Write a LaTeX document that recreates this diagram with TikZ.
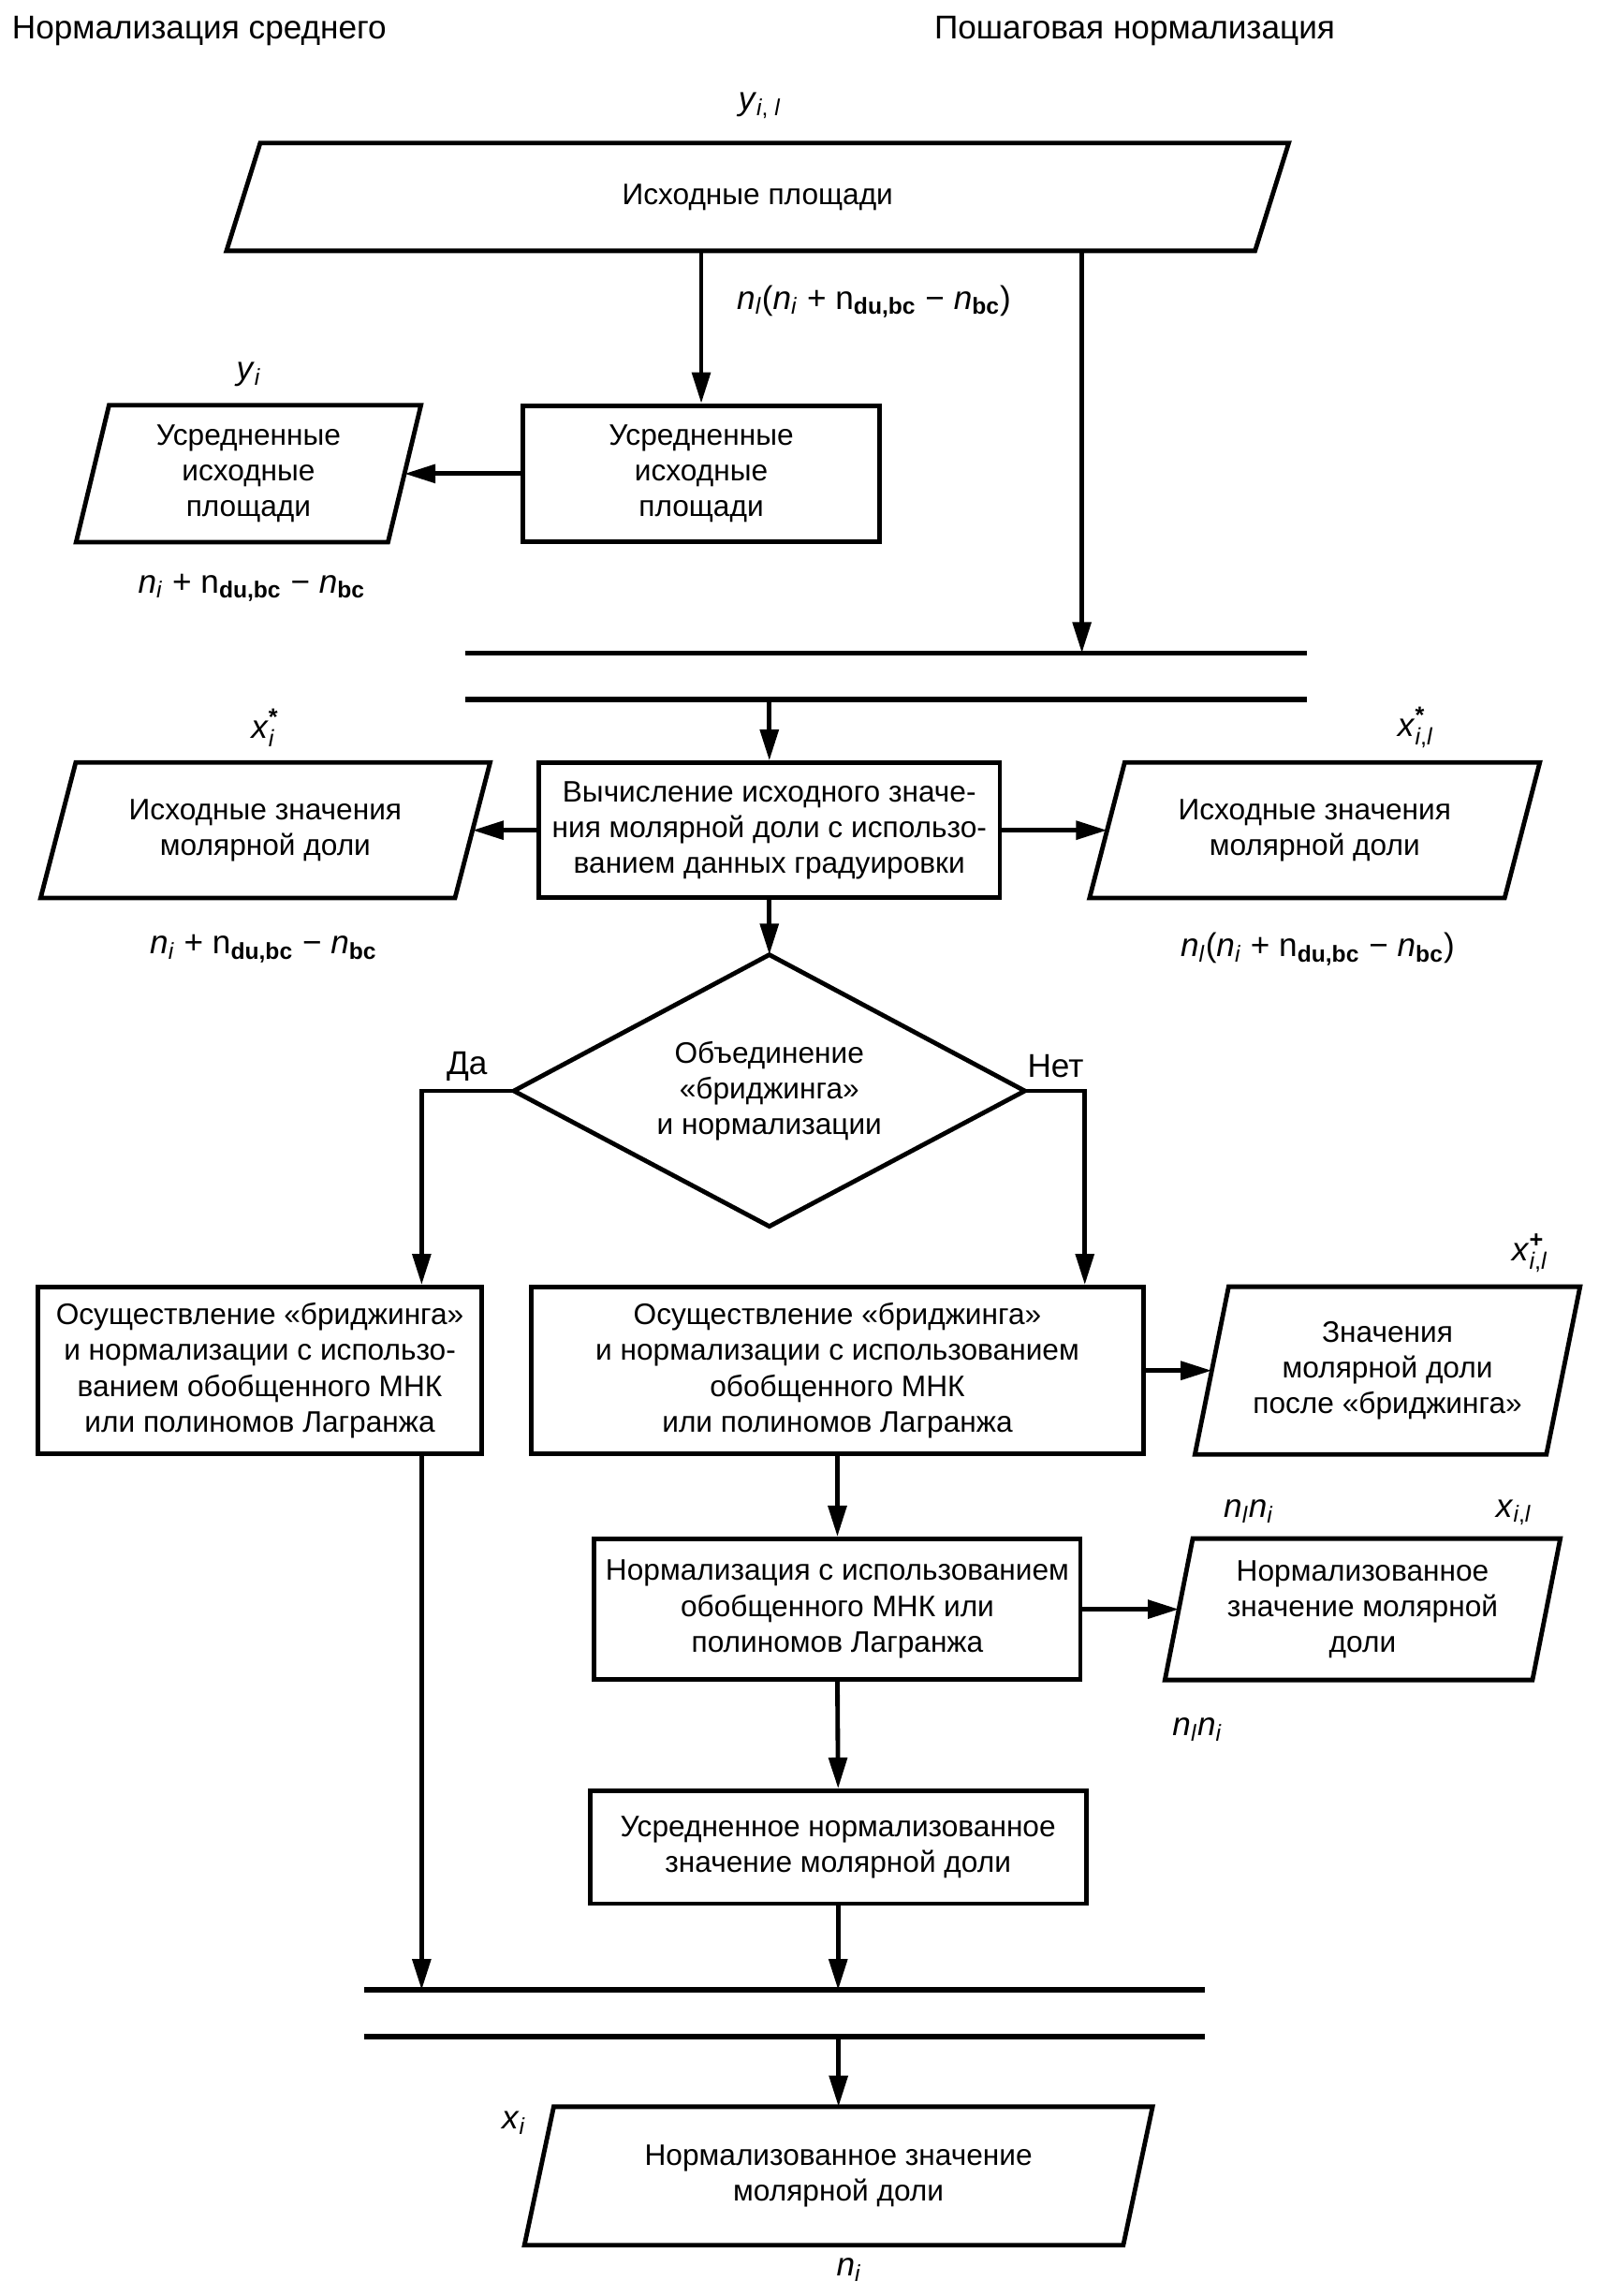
\documentclass[tikz,border=0pt]{standalone}
\usepackage{fontspec}
\setmainfont{Liberation Sans}
\usetikzlibrary{arrows.meta,calc}
\newcommand\supsub[2]{$^{\mbox{\fontsize{11.5}{12}\selectfont #1}}_{\mbox{\fontsize{11.5}{12}\selectfont #2}}$}
\newcommand\nexpr{\textit{n}\textsubscript{\textit{i}} + n\textsubscript{\textbf{du,bc}} − \textit{n}\textsubscript{\textbf{bc}}}
\newcommand\para[2]{\draw[lw] ([xshift=#2*0.25mm]#1.north west) -- ([xshift=#2*0.25mm]#1.north east) -- ([xshift=-#2*0.25mm]#1.south east) -- ([xshift=-#2*0.25mm]#1.south west) -- cycle;}
\begin{document}
\begin{tikzpicture}[x=0.25mm,y=-0.25mm,
 lw/.style={line width=2.2pt},
 barline/.style={line width=2.6pt},
 txt/.style={font=\fontsize{14.4}{17.4}\selectfont, align=center, inner sep=0pt},
 lbl/.style={font=\fontsize{16}{19}\selectfont, inner sep=0pt},
 rbox/.style 2 args={txt, draw, lw, minimum width=#1*0.25mm, minimum height=#2*0.25mm},
 pbox/.style 2 args={txt, minimum width=#1*0.25mm, minimum height=#2*0.25mm},
 arr/.style={lw, -{Triangle[length=5.3mm,width=3.1mm]}},
]
\useasboundingbox (0,0) rectangle (1092,1568);

% titles
\node[lbl, anchor=west] (t1) at (8,21) {Нормализация среднего};
\node[lbl, anchor=west] (t2) at (638,21) {Пошаговая нормализация};

% top
\node[lbl] (lyil) at (519,72) {\textit{y}\textsubscript{\textit{i}, \textit{l}}};
\node[pbox={702}{73}] (P0) at (517.5,134.5) {Исходные площади};
\para{P0}{11.5}
\node[lbl] (lA) at (597,206) {\textit{n}\textsubscript{\textit{l}}(\nexpr)};

\node[rbox={244}{93}] (B1) at (479,323.5) {Усредненные\\исходные\\площади};
\node[pbox={212.5}{93}] (P1) at (169.75,323.5) {Усредненные\\исходные\\площади};
\para{P1}{11.25}
\node[lbl] (lyi) at (170,256) {\textit{y}\textsubscript{\textit{i}}};
\node[lbl] (lB) at (172,401.5) {\nexpr};

% bars 1
\coordinate (b1w) at (318,446); \coordinate (b1e) at (893,446);
\coordinate (b2w) at (318,477.5); \coordinate (b2e) at (893,477.5);
\draw[barline] (b1w) -- (b1e);
\draw[barline] (b2w) -- (b2e);
\coordinate (j1) at (739,446);

% calc row
\node[rbox={315}{92}] (B2) at (525.5,567) {Вычисление исходного значе-\\ния молярной доли с использо-\\ванием данных градуировки};
\node[pbox={282.5}{92}] (P2) at (181.25,567) {Исходные значения\\молярной доли};
\para{P2}{12}
\node[pbox={283}{92}] (P3) at (898,567) {Исходные значения\\молярной доли};
\para{P3}{12}
\node[lbl] (lxs) at (181,497) {\textit{x}\supsub{\textbf{*}}{\textit{i}}};
\node[lbl] (lxsl) at (967,497) {\textit{x}\supsub{\textbf{*}}{\textit{i},\textit{l}}};
\node[lbl] (lC) at (180,648) {\nexpr};
\node[lbl] (lD) at (900,648) {\textit{n}\textsubscript{\textit{l}}(\nexpr)};

% decision
\node[txt] (D) at (525.5,745) {Объединение\\«бриджинга»\\и нормализации};
\coordinate (Dn) at (525.5,652); \coordinate (Ds) at (525.5,837.5);
\coordinate (Dw) at (351,745); \coordinate (De) at (700,745);
\draw[lw] (Dn) -- (De) -- (Ds) -- (Dw) -- cycle;
\node[lbl] (yes) at (319,728) {Да};
\node[lbl] (no) at (721,728) {Нет};
\coordinate (jl) at (288,745); \coordinate (jr) at (741,745);

% bridging row
\node[rbox={303}{114}] (LB) at (177.5,936) {Осуществление «бриджинга»\\и нормализации с использо-\\ванием обобщенного МНК\\или полиномов Лагранжа};
\node[rbox={418}{114}] (RB) at (572,936) {Осуществление «бриджинга»\\и нормализации с использованием\\обобщенного МНК\\или полиномов Лагранжа};
\node[pbox={239.5}{114}] (P4) at (947.75,936) {Значения\\молярной доли\\после «бриджинга»};
\para{P4}{11.5}
\node[lbl] (lxp) at (1045,856) {\textit{x}\supsub{\textbf{+}}{\textit{i},\textit{l}}};

% normalisation
\node[rbox={332}{96}] (NB) at (572,1099) {Нормализация с использованием\\обобщенного МНК или\\полиномов Лагранжа};
\node[pbox={250.5}{96}] (P5) at (930.75,1099) {Нормализованное\\значение молярной\\доли};
\para{P5}{9.5}
\node[lbl] (lnn1) at (853,1032) {\textit{n}\textsubscript{\textit{l}}\textit{n}\textsubscript{\textit{i}}};
\node[lbl] (lxil) at (1034,1033) {\textit{x}\textsubscript{\textit{i},\textit{l}}};
\node[lbl] (lnn2) at (818,1181) {\textit{n}\textsubscript{\textit{l}}\textit{n}\textsubscript{\textit{i}}};

\node[rbox={339}{77}] (AB) at (572.5,1261.5) {Усредненное нормализованное\\значение молярной доли};

% bars 2
\coordinate (b3w) at (249,1359); \coordinate (b3e) at (823,1359);
\coordinate (b4w) at (249,1391); \coordinate (b4e) at (823,1391);
\draw[barline] (b3w) -- (b3e);
\draw[barline] (b4w) -- (b4e);

% final
\node[pbox={408.5}{94}] (P6) at (572.75,1486) {Нормализованное значение\\молярной доли};
\para{P6}{10}
\node[lbl] (lxi) at (351,1450) {\textit{x}\textsubscript{\textit{i}}};
\node[lbl] (lni) at (580,1550) {\textit{n}\textsubscript{\textit{i}}};

% connectors
\draw[arr] (P0.south -| B1.north) -- (B1.north);
\draw[arr] (P0.south -| j1) -- (j1);
\draw[arr] (B1.west) -- (P1.east);
\draw[arr] (b2w -| B2.north) -- (B2.north);
\draw[arr] (B2.west) -- (P2.east);
\draw[arr] (B2.east) -- (P3.west);
\draw[arr] (B2.south) -- (Dn);
\draw[arr] (Dw) -- (jl) -- (jl |- LB.north);
\draw[arr] (De) -- (jr) -- (jr |- RB.north);
\draw[arr] (RB.east) -- (P4.west);
\draw[arr] (RB.south) -- (NB.north);
\draw[arr] (NB.east) -- (P5.west);
\draw[arr] (NB.south) -- (AB.north);
\draw[arr] (AB.south) -- (AB.south |- b3w);
\draw[arr] (jl |- LB.south) -- (jl |- b3w);
\draw[arr] (b4w -| P6.north) -- (P6.north);
\end{tikzpicture}
\end{document}
